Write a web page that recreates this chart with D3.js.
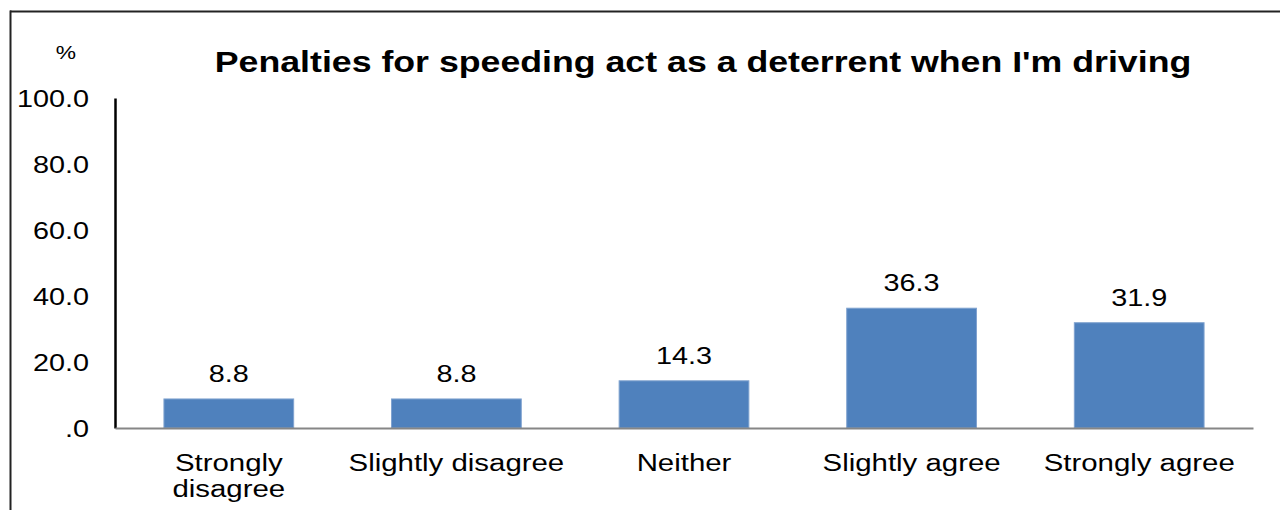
<!DOCTYPE html>
<html>
<head>
<meta charset="utf-8">
<script src="https://cdn.jsdelivr.net/npm/d3@7"></script>
<style>
  html, body { margin: 0; padding: 0; background: #fff; }
  svg { display: block; }
  text { font-family: "Liberation Sans", Arial, sans-serif; fill: #000; }
</style>
</head>
<body>
<svg id="chart" width="1280" height="510"></svg>
<script>
const title = "Penalties for speeding act as a deterrent when I'm driving";
const yUnit = "%";
const categories = ["Strongly\ndisagree", "Slightly disagree", "Neither", "Slightly agree", "Strongly agree"];
const values = [8.8, 8.8, 14.3, 36.3, 31.9];
const yTicks = [0, 20, 40, 60, 80, 100];
const yTickLabels = [".0", "20.0", "40.0", "60.0", "80.0", "100.0"];

const W = 1280, H = 510;
const S = 1.2; // horizontal text stretch
const margin = {left: 115, right: 27, top: 98, bottom: 82};
const svg = d3.select("#chart");

// frame
svg.append("line").attr("x1", 10).attr("x2", W).attr("y1", 11.5).attr("y2", 11.5)
  .attr("stroke", "#222").attr("stroke-width", 2);
svg.append("line").attr("x1", 10.5).attr("x2", 10.5).attr("y1", 10.5).attr("y2", H)
  .attr("stroke", "#222").attr("stroke-width", 2);

const x = d3.scaleBand().domain(categories)
  .range([margin.left, W - margin.right])
  .paddingInner(0.43).paddingOuter(0.215);
const y = d3.scaleLinear().domain([0, 100]).range([H - margin.bottom, margin.top]);

// bars
svg.append("g").selectAll("rect").data(values).join("rect")
  .attr("x", (d, i) => x(categories[i]))
  .attr("width", x.bandwidth())
  .attr("y", d => y(d))
  .attr("height", d => y(0) - y(d))
  .attr("fill", "#4F81BD")
  .attr("stroke", "#7FA2CF").attr("stroke-width", 1);

// y axis
const yAxis = svg.append("g").attr("transform", `translate(${margin.left},0)`)
  .call(d3.axisLeft(y).tickValues(yTicks)
    .tickFormat((d, i) => yTickLabels[i]).tickSize(0).tickSizeOuter(0));
yAxis.select(".domain").attr("stroke", "#000").attr("stroke-width", 2.5);
yAxis.selectAll(".tick text")
  .attr("x", -26 / S).attr("dy", "0.35em")
  .attr("transform", `scale(${S},1)`)
  .style("font-size", "24px").attr("fill", "#000");

// x axis
const xAxis = svg.append("g").attr("transform", `translate(0,${y(0)})`)
  .call(d3.axisBottom(x).tickSize(0).tickSizeOuter(0).tickFormat(""));
xAxis.select(".domain").attr("stroke", "#868686").attr("stroke-width", 2);
xAxis.selectAll(".tick text").remove();
xAxis.selectAll(".tick").each(function(d) {
  const lines = d.split("\n");
  const t = d3.select(this).append("text")
    .attr("text-anchor", "middle")
    .attr("transform", `translate(0,43) scale(${S},1)`)
    .style("font-size", "24.5px");
  lines.forEach((l, i) => {
    t.append("tspan").attr("x", 0).attr("y", i * 26).text(l);
  });
});

// data labels
svg.append("g").selectAll("text").data(values).join("text")
  .attr("text-anchor", "middle")
  .attr("transform", (d, i) => `translate(${x(categories[i]) + x.bandwidth() / 2},${y(d) - 17}) scale(${S},1)`)
  .style("font-size", "24px")
  .text(d => d.toFixed(1));

// unit label
svg.append("text").attr("text-anchor", "middle")
  .attr("transform", `translate(66,59) scale(${S},1)`)
  .style("font-size", "19px").text(yUnit);

// title
svg.append("text").attr("text-anchor", "middle")
  .attr("transform", `translate(703,72) scale(1.19,1)`)
  .style("font-size", "30px").style("font-weight", "bold")
  .text(title);
</script>
</body>
</html>
